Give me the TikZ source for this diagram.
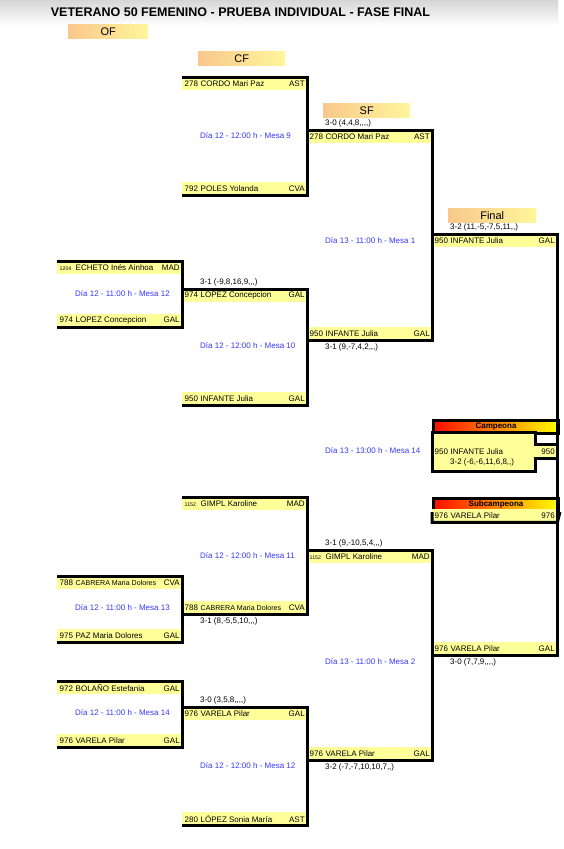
\documentclass[tikz,border=0pt]{standalone}
\usepackage{fontspec}
\setmainfont{Liberation Sans}[Ligatures=TeXOff]
\usepackage{tikz}
\usetikzlibrary{positioning}
\definecolor{rowyellow}{RGB}{255,255,153}
\definecolor{mesablue}{RGB}{55,55,250}
\definecolor{hdrorange}{RGB}{249,200,140}
\definecolor{hdryellow}{RGB}{255,246,155}
\definecolor{titlegray}{RGB}{214,214,214}
\newcommand{\pl}[3]{\hbox to 120pt{\hbox to 16pt{#1\hss}#2\hfill#3}}
\newcommand{\sd}[1]{{\fontsize{5.3}{6}\selectfont#1}}
\newcommand{\nm}[1]{{\fontsize{7.1}{8}\selectfont#1}}

\begin{document}
\begin{tikzpicture}[
    x=1pt, y=-1pt,
    row/.style={fill=rowyellow, anchor=north west, minimum width=125pt, minimum height=13pt,
                inner xsep=2.5pt, inner ysep=0pt, font=\fontsize{8}{9}\selectfont},
    bracket/.style={line width=3pt},
    phase/.style={left color=hdrorange, right color=hdryellow, anchor=north west,
                  minimum height=14.5pt, inner sep=0pt, font=\fontsize{11}{12}\selectfont},
    mesa/.style={anchor=west, inner sep=0pt, text=mesablue, font=\fontsize{8}{9}\selectfont},
    score/.style={inner sep=0pt, font=\fontsize{8}{9}\selectfont},
    medal/.style={draw, line width=3pt, left color=red!90!orange, middle color=orange,
                  right color=yellow, anchor=north west, minimum width=125pt, minimum height=13pt,
                  inner sep=0pt, font=\bfseries\fontsize{8}{9}\selectfont}
  ]
    \useasboundingbox (0,0) rectangle (563,849);

    % title and round headers
    \shade[top color=titlegray, bottom color=white] (0,0) rectangle (558,26);
    \node[font=\bfseries\fontsize{12.5}{14}\selectfont] (title) at (240.5,12)
      {VETERANO 50 FEMENINO - PRUEBA INDIVIDUAL - FASE FINAL};
    \node[phase, minimum width=80pt] (of) at (68,24) {OF};
    \node[phase, minimum width=87pt] (cf) at (198,51) {CF};
    \node[phase, minimum width=87pt] (sf) at (323,103) {SF};
    \node[phase, minimum width=88pt] (fin) at (448,208) {Final};

    % octavos
    \node[row] (of1a) at (57,261) {\pl{\sd{1204}}{ECHETO Inés Ainhoa}{MAD}};
    \node[row] (of1b) at (57,314) {\pl{974}{LOPEZ Concepcion}{GAL}};
    \node[row] (of2a) at (57,576) {\pl{788}{\nm{CABRERA Maria Dolores}}{CVA}};
    \node[row] (of2b) at (57,629) {\pl{975}{PAZ Maria Dolores}{GAL}};
    \node[row] (of3a) at (57,681) {\pl{972}{BOLAÑO Estefania}{GAL}};
    \node[row] (of3b) at (57,734) {\pl{976}{VARELA Pilar}{GAL}};

    % cuartos
    \node[row] (cf1a) at (182,77) {\pl{278}{CORDO Mari Paz}{AST}};
    \node[row] (cf1b) at (182,182) {\pl{792}{POLES Yolanda}{CVA}};
    \node[row] (cf2a) at (182,289) {\pl{974}{LOPEZ Concepcion}{GAL}};
    \node[row] (cf2b) at (182,392) {\pl{950}{INFANTE Julia}{GAL}};
    \node[row] (cf3a) at (182,497) {\pl{\sd{1152}}{GIMPL Karoline}{MAD}};
    \node[row] (cf3b) at (182,601) {\pl{788}{\nm{CABRERA Maria Dolores}}{CVA}};
    \node[row] (cf4a) at (182,707) {\pl{976}{VARELA Pilar}{GAL}};
    \node[row] (cf4b) at (182,812) {\pl{280}{LÓPEZ Sonia María}{AST}};

    % semifinales
    \node[row] (sf1a) at (307,130) {\pl{278}{CORDO Mari Paz}{AST}};
    \node[row] (sf1b) at (307,327) {\pl{950}{INFANTE Julia}{GAL}};
    \node[row] (sf2a) at (307,550) {\pl{\sd{1152}}{GIMPL Karoline}{MAD}};
    \node[row] (sf2b) at (307,747) {\pl{976}{VARELA Pilar}{GAL}};

    % final
    \node[row] (fa) at (432,234) {\pl{950}{INFANTE Julia}{GAL}};
    \node[row] (fb) at (432,642) {\pl{976}{VARELA Pilar}{GAL}};

    % match brackets
    \draw[bracket] (of1a.north west) -- (of1a.north east) -- (of1b.south east) -- (of1b.south west);
    \draw[bracket] (of2a.north west) -- (of2a.north east) -- (of2b.south east) -- (of2b.south west);
    \draw[bracket] (of3a.north west) -- (of3a.north east) -- (of3b.south east) -- (of3b.south west);
    \draw[bracket] (cf1a.north west) -- (cf1a.north east) -- (cf1b.south east) -- (cf1b.south west);
    \draw[bracket] (cf2a.north west) -- (cf2a.north east) -- (cf2b.south east) -- (cf2b.south west);
    \draw[bracket] (cf3a.north west) -- (cf3a.north east) -- (cf3b.south east) -- (cf3b.south west);
    \draw[bracket] (cf4a.north west) -- (cf4a.north east) -- (cf4b.south east) -- (cf4b.south west);
    \draw[bracket] (sf1a.north west) -- (sf1a.north east) -- (sf1b.south east) -- (sf1b.south west);
    \draw[bracket] (sf2a.north west) -- (sf2a.north east) -- (sf2b.south east) -- (sf2b.south west);

    % mesas
    \node[mesa] (of1m) at (75,294) {Día 12 - 11:00 h - Mesa 12};
    \node[mesa] (of2m) at (75,608) {Día 12 - 11:00 h - Mesa 13};
    \node[mesa] (of3m) at (75,713) {Día 12 - 11:00 h - Mesa 14};
    \node[mesa] (cf1m) at (200,136) {Día 12 - 12:00 h - Mesa 9};
    \node[mesa] (cf2m) at (200,346) {Día 12 - 12:00 h - Mesa 10};
    \node[mesa] (cf3m) at (200,556) {Día 12 - 12:00 h - Mesa 11};
    \node[mesa] (cf4m) at (200,766) {Día 12 - 12:00 h - Mesa 12};
    \node[mesa] (sf1m) at (325,241) {Día 13 - 11:00 h - Mesa 1};
    \node[mesa] (fm) at (325,451) {Día 13 - 13:00 h - Mesa 14};
    \node[mesa] (sf2m) at (325,662) {Día 13 - 11:00 h - Mesa 2};

    % results
    \node[score, above right=2.5pt and 18pt of cf2a.north west] (cf2s) {3-1 (-9,8,16,9,,,)};
    \node[score, below right=3pt and 18pt of cf3b.south west] (cf3s) {3-1 (8,-5,5,10,,,)};
    \node[score, above right=2.5pt and 18pt of cf4a.north west] (cf4s) {3-0 (3,5,8,,,,)};
    \node[score, above right=2.5pt and 18pt of sf1a.north west] (sf1s) {3-0 (4,4,8,,,,)};
    \node[score, below right=3pt and 18pt of sf1b.south west] (sf1t) {3-1 (9,-7,4,2,,,)};
    \node[score, above right=2.5pt and 18pt of sf2a.north west] (sf2s) {3-1 (9,-10,5,4,,,)};
    \node[score, below right=3pt and 18pt of sf2b.south west] (sf2t) {3-2 (-7,-7,10,10,7,,)};
    \node[score, above right=2.5pt and 18pt of fa.north west] (fas) {3-2 (11,-5,-7,5,11,,)};
    \node[score, below right=3pt and 18pt of fb.south west] (fbs) {3-0 (7,7,9,,,,)};

    % campeona
    \node[medal] (camp) at (432,419) {Campeona};
    \filldraw[bracket, fill=rowyellow] (432,432) -- (535,432) -- (535,444) -- (557,444)
      -- (557,458) -- (535,458) -- (535,471) -- (432,471) -- cycle;
    \node[row, fill=none] (champ) at (432,444.5) {\pl{950}{INFANTE Julia}{950}};
    \node[score, below right=0.5pt and 18pt of champ.south west] (champs) {3-2 (-6,-6,11,6,8,,)};

    % subcampeona
    \node[medal, minimum height=12pt] (subc) at (432,497) {Subcampeona};
    \node[row] (runner) at (432,509) {\pl{976}{VARELA Pilar}{976}};
    \draw[bracket] (subc.south west) -- (runner.south west) -- (runner.south east) -- (subc.south east);

    \draw[bracket] (fa.north west) -- (fa.north east) -- (fb.south east) -- (fb.south west);
  \end{tikzpicture}
\end{document}
